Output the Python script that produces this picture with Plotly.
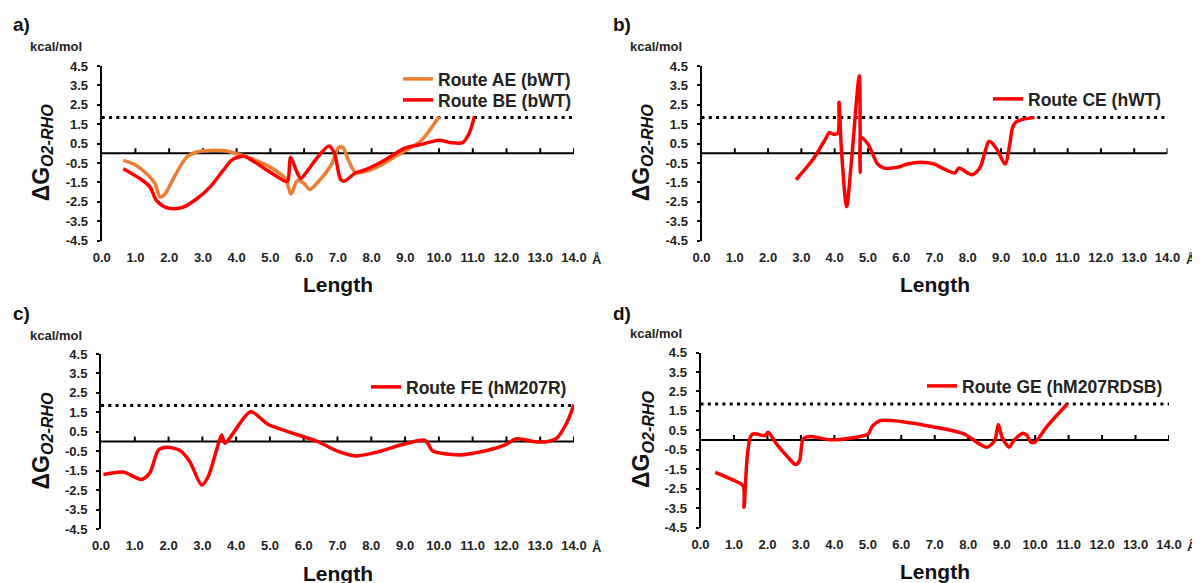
import plotly.graph_objects as go

# ---------------- data ----------------
# a) Route AE (bWT) - orange
ae_x = [0.64, 1.0, 1.33, 1.58, 1.73, 1.88, 2.07, 2.32, 2.52, 2.82, 3.21, 3.7, 4.0, 4.24, 4.9, 5.25, 5.45, 5.61, 5.8, 6.0, 6.17, 6.4, 6.8, 7.02, 7.15, 7.3, 7.53, 7.87, 8.32, 8.89, 9.46, 10.0]
ae_y = [-0.36, -0.6, -1.05, -1.56, -2.25, -2.08, -1.48, -0.7, -0.19, 0.07, 0.15, 0.12, -0.02, -0.14, -0.62, -1.0, -1.3, -2.1, -1.4, -1.55, -1.86, -1.5, -0.6, 0.29, 0.3, -0.3, -1.0, -0.91, -0.57, 0.03, 0.64, 1.9]
# a) Route BE (bWT) - red
be_x = [0.64, 1.14, 1.43, 1.62, 1.88, 2.12, 2.42, 2.82, 3.21, 3.6, 3.85, 4.05, 4.24, 4.8, 5.2, 5.45, 5.52, 5.6, 5.75, 5.9, 6.1, 6.4, 6.74, 6.9, 7.08, 7.19, 7.53, 7.8, 8.32, 9.0, 9.45, 10.0, 10.36, 10.7, 10.88, 11.05]
be_y = [-0.79, -1.31, -1.73, -2.42, -2.77, -2.85, -2.77, -2.34, -1.74, -0.88, -0.36, -0.19, -0.16, -0.75, -1.2, -1.45, -1.4, -0.2, -0.8, -1.3, -0.9, -0.2, 0.38, 0.0, -1.34, -1.43, -1.0, -0.85, -0.42, 0.28, 0.45, 0.67, 0.55, 0.55, 0.98, 1.9]
# b) Route CE (hWT)
ce_x = [2.84, 3.39, 3.74, 3.84, 3.94, 4.09, 4.13, 4.2, 4.36, 4.5, 4.74, 4.77, 4.79, 5.0, 5.29, 5.49, 5.89, 6.19, 6.59, 6.99, 7.19, 7.61, 7.73, 8.13, 8.36, 8.65, 8.88, 9.12, 9.26, 9.34, 9.44, 9.62, 10.0]
ce_y = [-1.36, -0.21, 0.79, 1.08, 1.0, 1.03, 2.63, 0.3, -2.75, -0.5, 4.0, -0.98, 0.82, 0.48, -0.55, -0.76, -0.72, -0.55, -0.46, -0.55, -0.72, -1.01, -0.76, -1.1, -0.76, 0.62, 0.19, -0.55, 0.45, 1.3, 1.6, 1.74, 1.84]
# c) Route FE (hM207R)
fe_x = [0.07, 0.66, 1.2, 1.45, 1.7, 1.94, 2.34, 2.63, 2.98, 3.17, 3.42, 3.57, 3.67, 3.91, 4.43, 4.94, 5.62, 6.41, 6.98, 7.54, 8.11, 8.9, 9.58, 9.69, 9.81, 10.6, 11.39, 11.96, 12.3, 12.87, 13.19, 13.48, 13.78, 14.0]
fe_y = [-1.7, -1.57, -1.95, -1.6, -0.44, -0.3, -0.46, -1.04, -2.24, -1.81, -0.44, 0.33, -0.09, 0.42, 1.53, 0.89, 0.46, 0.0, -0.48, -0.74, -0.57, -0.17, 0.07, -0.14, -0.48, -0.69, -0.48, -0.17, 0.14, -0.02, -0.01, 0.16, 0.94, 1.9]
# d) Route GE (hM207RDSB)
ge_x = [0.44, 0.9, 1.27, 1.3, 1.4, 1.5, 1.59, 1.93, 2.02, 2.27, 2.61, 2.84, 2.96, 3.07, 3.3, 3.87, 4.44, 5.01, 5.13, 5.36, 5.7, 6.73, 7.87, 8.33, 8.56, 8.79, 8.9, 9.01, 9.22, 9.36, 9.64, 9.76, 9.87, 9.99, 10.38, 10.96]
ge_y = [-1.66, -2.0, -2.35, -3.46, -0.8, 0.2, 0.32, 0.23, 0.4, -0.2, -0.88, -1.26, -1.06, 0.06, 0.18, 0.01, 0.09, 0.32, 0.7, 1.0, 1.0, 0.75, 0.32, -0.2, -0.37, -0.03, 0.8, 0.15, -0.37, -0.03, 0.35, 0.23, -0.11, -0.11, 0.75, 1.85]

x_ticks = list(range(0, 15))
x_tick_labels = ["0.0", "1.0", "2.0", "3.0", "4.0", "5.0", "6.0", "7.0", "8.0", "9.0", "10.0", "11.0", "12.0", "13.0", "14.0"]
y_ticks = [-4.5, -3.5, -2.5, -1.5, -0.5, 0.5, 1.5, 2.5, 3.5, 4.5]
y_tick_labels = ["-4.5", "-3.5", "-2.5", "-1.5", "-0.5", "0.5", "1.5", "2.5", "3.5", "4.5"]
threshold = 1.85
panel_labels = ["a)", "b)", "c)", "d)"]
unit_label = "kcal/mol"
x_title = "Length"
x_unit = "Å"

ORANGE = "#ED7D31"
RED = "#FF0000"
FONT = "Liberation Sans, Arial, sans-serif"

W, H = 1200, 583
OFF = 8  # page body margin offset
def fx(p):
    return (p - OFF) / W
def fy(p):
    return 1 - (p - OFF) / H

# panel geometry in pixels: x(0), x(14), y(4.5), y(-4.5)
geo = [
    (101.7, 574.0, 66.0, 240.7),
    (701.5, 1167.5, 66.0, 240.7),
    (101.0, 574.0, 354.0, 529.0),
    (700.5, 1169.0, 352.5, 527.5),
]

# (name, x, y, colour, legend id, legend text-start px, legend row centre px)
series = [
    [("Route AE (bWT)", ae_x, ae_y, ORANGE, "legend", 438, 79),
     ("Route BE (bWT)", be_x, be_y, RED, "legend5", 438, 100)],
    [("Route CE (hWT)", ce_x, ce_y, RED, "legend2", 1028, 99)],
    [("Route FE (hM207R)", fe_x, fe_y, RED, "legend3", 406, 387)],
    [("Route GE (hM207RDSB)", ge_x, ge_y, RED, "legend4", 962, 386)],
]

fig = go.Figure()
shapes = []
annotations = []
layout = {}

for i in range(4):
    n = i + 1
    xs = "" if n == 1 else str(n)
    xref, yref = "x" + xs, "y" + xs
    x0, x1, yt, yb = geo[i]
    for name, xv, yv, col, leg, tx, ty in series[i]:
        fig.add_trace(go.Scatter(
            x=xv, y=yv, mode="lines", name=name,
            line=dict(color=col, width=3.5, shape="spline", smoothing=0.8),
            xaxis=xref, yaxis=yref, legend=leg, showlegend=True,
        ))
        layout[leg] = dict(
            x=fx(tx - 40), y=fy(ty), xanchor="left", yanchor="middle",
            xref="paper", yref="paper", bgcolor="rgba(0,0,0,0)",
            font=dict(family=FONT, size=17.5, color="#222", weight="bold"),
            tracegroupgap=0, itemwidth=30,
        )
    layout["xaxis" + xs] = dict(
        domain=[fx(x0), fx(x1)], range=[0, 14], anchor=yref, automargin=False,
        tickvals=x_ticks, ticktext=x_tick_labels,
        showline=False, ticks="", showgrid=False, zeroline=False,
        tickfont=dict(family=FONT, size=13, color="#222", weight="bold"),
        ticklabelstandoff=7,
    )
    layout["yaxis" + xs] = dict(
        domain=[fy(yb), fy(yt)], range=[-4.5, 4.5], anchor=xref, automargin=False,
        tickvals=y_ticks, ticktext=y_tick_labels,
        showline=True, linewidth=2, linecolor="black",
        ticks="outside", ticklen=3, tickwidth=2, tickcolor="black",
        showgrid=False, zeroline=False,
        tickfont=dict(family=FONT, size=13, color="#222", weight="bold"),
        ticklabelstandoff=6,
    )
    # zero axis line with upward ticks
    shapes.append(dict(type="line", xref=xref, yref=yref, x0=0, x1=14, y0=0, y1=0,
                       line=dict(color="black", width=2), layer="below"))
    for t in x_ticks[1:]:
        shapes.append(dict(type="line", xref=xref, yref=yref, x0=t, x1=t,
                           ysizemode="pixel", yanchor=0, y0=0, y1=5,
                           line=dict(color="black", width=2), layer="below"))
    # dotted threshold
    shapes.append(dict(type="line", xref=xref, yref=yref, x0=0, x1=14, y0=threshold, y1=threshold,
                       line=dict(color="black", width=3, dash="3px,4.3px"), layer="below"))
    # texts
    pyoff = 0 if i < 2 else 289
    pxoff = 0 if i % 2 == 0 else 600
    annotations.append(dict(text="<b>" + panel_labels[i] + "</b>", xref="paper", yref="paper",
                            x=fx(pxoff + 11), y=fy(pyoff + 24.5), xanchor="left", yanchor="middle",
                            showarrow=False, font=dict(family=FONT, size=19, color="#111")))
    annotations.append(dict(text="<b>" + unit_label + "</b>", xref="paper", yref="paper",
                            x=fx(pxoff + 56), y=fy(yt - 19), xanchor="center", yanchor="middle",
                            showarrow=False, font=dict(family=FONT, size=13, color="#222")))
    annotations.append(dict(text="<b>ΔG<sub><i>O2-RHO</i></sub></b>", xref="paper", yref="paper",
                            x=fx(pxoff + 42), y=fy((yt + yb) / 2), xanchor="center", yanchor="middle",
                            textangle=-90, showarrow=False, font=dict(family=FONT, size=23, color="#111")))
    annotations.append(dict(text="<b>" + x_title + "</b>", xref="paper", yref="paper",
                            x=fx((x0 + x1) / 2), y=fy(yb + 44), xanchor="center", yanchor="middle",
                            showarrow=False, font=dict(family=FONT, size=21, color="#111")))
    annotations.append(dict(text="<b>" + x_unit + "</b>", xref="paper", yref="paper",
                            x=fx(x1 + 23), y=fy(yb + 18.5), xanchor="center", yanchor="middle",
                            showarrow=False, font=dict(family=FONT, size=13, color="#222")))

fig.update_layout(
    template="none",
    width=W, height=H, margin=dict(l=0, r=0, t=0, b=0, pad=0, autoexpand=False),
    paper_bgcolor="white", plot_bgcolor="white",
    shapes=shapes, annotations=annotations, **layout,
)
fig.write_html("out.html")
